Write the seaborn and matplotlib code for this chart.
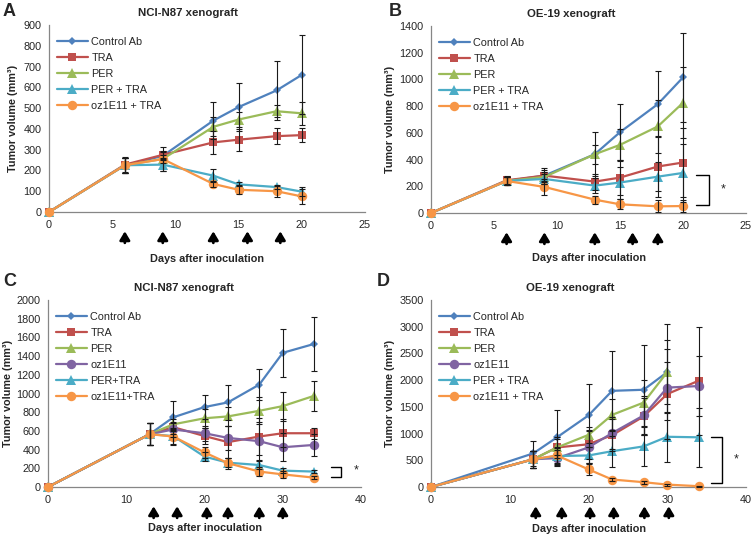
import numpy as np
import pandas as pd
import matplotlib
matplotlib.use("Agg")
import matplotlib.pyplot as plt
import seaborn as sns

# ---------------- data ----------------
# Panel A: NCI-N87 xenograft
a_days = [0, 6, 9, 13, 15, 18, 20]
a_control = [0, 225, 270, 440, 505, 585, 660]
a_control_err = [0, 35, 20, 90, 117, 140, 190]
a_tra = [0, 228, 275, 335, 348, 365, 370]
a_tra_err = [0, 35, 20, 57, 53, 37, 33]
a_per = [0, 225, 255, 410, 445, 485, 475]
a_per_err = [0, 35, 20, 45, 35, 28, 55]
a_pertra = [0, 225, 228, 175, 133, 120, 98]
a_pertra_err = [0, 35, 30, 33, 10, 10, 22]
a_oztra = [0, 225, 255, 135, 107, 100, 75]
a_oztra_err = [0, 35, 60, 15, 22, 27, 38]
a_dosing = [6, 9, 13, 15.7, 18.3]

# Panel B: OE-19 xenograft
b_days = [0, 6, 9, 13, 15, 18, 20]
b_control = [0, 240, 280, 440, 605, 815, 1015]
b_control_err = [0, 30, 40, 165, 210, 245, 335]
b_tra = [0, 245, 280, 235, 265, 348, 378]
b_tra_err = [0, 30, 60, 60, 130, 230, 260]
b_per = [0, 240, 270, 440, 510, 648, 825]
b_per_err = [0, 30, 40, 70, 117, 200, 265]
b_pertra = [0, 240, 255, 205, 228, 272, 300]
b_pertra_err = [0, 30, 40, 55, 120, 108, 214]
b_oztra = [0, 240, 195, 100, 65, 50, 52]
b_oztra_err = [0, 30, 57, 30, 37, 45, 45]
b_dosing = [6, 9, 13, 16, 18]

# Panel C: NCI-N87 xenograft (long)
c_days = [0, 13, 16, 20, 23, 27, 30, 34]
c_control = [0, 565, 745, 855, 905, 1095, 1435, 1530]
c_control_err = [0, 120, 175, 125, 190, 165, 255, 290]
c_tra = [0, 565, 640, 545, 480, 540, 575, 575]
c_tra_err = [0, 120, 40, 90, 170, 200, 150, 60]
c_per = [0, 565, 670, 735, 755, 815, 865, 975]
c_per_err = [0, 120, 60, 100, 100, 145, 155, 160]
c_oz = [0, 565, 615, 575, 525, 490, 425, 450]
c_oz_err = [0, 120, 80, 80, 130, 200, 150, 120]
c_pertra = [0, 565, 545, 325, 260, 235, 175, 165]
c_pertra_err = [0, 120, 80, 50, 50, 40, 30, 20]
c_oztra = [0, 565, 540, 370, 255, 165, 135, 100]
c_oztra_err = [0, 120, 90, 60, 60, 50, 40, 15]
c_dosing = [13.5, 16.5, 20.3, 23, 27, 30]

# Panel D: OE-19 xenograft (long)
d_days = [0, 13, 16, 20, 23, 27, 30, 34]
d_control = [0, 630, 930, 1340, 1800, 1820, 2150, np.nan]
d_control_err = [0, 240, 520, 590, 740, 830, 900, np.nan]
d_tra = [0, 520, 740, 800, 970, 1320, 1740, 1990]
d_tra_err = [0, 160, 150, 270, 300, 350, 850, 1010]
d_per = [0, 520, 740, 975, 1350, 1580, 2150, np.nan]
d_per_err = [0, 160, 200, 150, 300, 430, 600, np.nan]
d_oz = [0, 520, 540, 740, 1010, 1340, 1860, 1890]
d_oz_err = [0, 160, 150, 300, 300, 360, 480, 560]
d_pertra = [0, 520, 580, 590, 670, 760, 940, 930]
d_pertra_err = [0, 160, 150, 150, 290, 370, 470, 550]
d_oztra = [0, 520, 590, 330, 140, 90, 45, 15]
d_oztra_err = [0, 160, 150, 100, 30, 30, 20, 10]
d_dosing = [13.3, 16.6, 20.2, 23.2, 27.1, 30.2]

# ---------------- styles ----------------
COL = {"control": "#4F81BD", "tra": "#C0504D", "per": "#9BBB59",
       "oz": "#8064A2", "pertra": "#4BACC6", "oztra": "#F79646"}
MK = {"control": ("D", 4.2), "tra": ("s", 6.0), "per": ("^", 6.5),
      "oz": ("o", 6.8), "pertra": ("^", 6.5), "oztra": ("o", 6.8)}

sns.set_style("white")
plt.rcParams["font.family"] = ["Liberation Sans", "DejaVu Sans"]
FS = 7.8

fig = plt.figure(figsize=(7.56, 5.37), dpi=100)

W, H = 756.0, 537.0


def make_ax(l, r, t, b):
    return fig.add_axes([l / W, 1 - b / H, (r - l) / W, (b - t) / H])


def panel(ax, days, series, xmax, xstep, ymax, ystep, title, letter, dosing,
          title_x, xlabel_y, ylabel_x, letter_xy, bracket=None, star=None):
    for key, label, vals, errs in series:
        d = np.array(days, dtype=float)
        v = np.array(vals, dtype=float)
        ok = ~np.isnan(v)
        m, ms = MK[key]
        sns.lineplot(x=d[ok], y=v[ok], ax=ax, color=COL[key], marker=m,
                     markersize=ms, markeredgecolor=COL[key],
                     markeredgewidth=0, linewidth=1.6, label=label,
                     clip_on=False, zorder=3, sort=False)
    for key, label, vals, errs in series:
        d = np.array(days, dtype=float)
        v = np.array(vals, dtype=float)
        e = np.array(errs, dtype=float)
        ok = (~np.isnan(v)) & (np.nan_to_num(e) > 0)
        ax.errorbar(d[ok], v[ok], yerr=e[ok], fmt="none", ecolor="#1a1a1a",
                    elinewidth=0.8, capsize=2.2, capthick=0.8, zorder=4,
                    clip_on=False)
    ax.set_xlim(0, xmax)
    ax.set_ylim(0, ymax)
    ax.set_xticks(np.arange(0, xmax + 0.1, xstep))
    ax.set_yticks(np.arange(0, ymax + 0.1, ystep))
    for s in ["top", "right"]:
        ax.spines[s].set_visible(False)
    for s in ["left", "bottom"]:
        ax.spines[s].set_color("#868686")
        ax.spines[s].set_linewidth(0.9)
    ax.tick_params(axis="both", direction="out", length=3.5, width=0.8,
                   color="#868686", labelsize=FS, pad=2)
    ax.set_xlabel("Days after inoculation", fontweight="bold", fontsize=FS)
    ax.xaxis.set_label_coords(0.5, xlabel_y)
    ax.set_ylabel("Tumor volume (mm³)", fontweight="bold", fontsize=FS)
    ax.yaxis.set_label_coords(ylabel_x, 0.5)
    ax.text(title_x, 1.065, title, transform=ax.transAxes, ha="center",
            va="center", fontweight="bold", fontsize=8.2)
    fig.text(letter_xy[0] / W, 1 - letter_xy[1] / H, letter,
             fontweight="bold", fontsize=13, ha="left", va="center")
    ax.legend(loc="upper left", bbox_to_anchor=(0.0, 0.975),
              frameon=False, fontsize=FS, handlelength=2.9,
              handletextpad=0.3, labelspacing=0.55, borderaxespad=0.3)
    for x in dosing:
        ax.annotate("", xy=(x, -0.103), xytext=(x, -0.165),
                    xycoords=("data", "axes fraction"),
                    textcoords=("data", "axes fraction"),
                    arrowprops=dict(arrowstyle="-|>,head_width=0.3,head_length=0.5",
                                    color="black", lw=2.0, shrinkA=0, shrinkB=0))
    if bracket is not None:
        bx0, bx1, by0, by1 = bracket
        ax.plot([bx0, bx1, bx1, bx0], [by1, by1, by0, by0], color="black",
                lw=1.0, clip_on=False)
        ax.text(star[0], star[1], "*", ha="center", va="center", fontsize=9)


axA = make_ax(49, 365, 25, 212)
panel(axA, a_days,
      [("control", "Control Ab", a_control, a_control_err),
       ("tra", "TRA", a_tra, a_tra_err),
       ("per", "PER", a_per, a_per_err),
       ("pertra", "PER + TRA", a_pertra, a_pertra_err),
       ("oztra", "oz1E11 + TRA", a_oztra, a_oztra_err)],
      25, 5, 900, 100, "NCI-N87 xenograft", "A", a_dosing,
      0.44, -0.225, -0.098, (3, 12))

axB = make_ax(431, 746, 26, 213)
panel(axB, b_days,
      [("control", "Control Ab", b_control, b_control_err),
       ("tra", "TRA", b_tra, b_tra_err),
       ("per", "PER", b_per, b_per_err),
       ("pertra", "PER + TRA", b_pertra, b_pertra_err),
       ("oztra", "oz1E11 + TRA", b_oztra, b_oztra_err)],
      25, 5, 1400, 200, "OE-19 xenograft", "B", b_dosing,
      0.445, -0.214, -0.114, (389, 12), (21.05, 22.1, 62, 285), (23.2, 180))

axC = make_ax(48, 361, 300, 487)
panel(axC, c_days,
      [("control", "Control Ab", c_control, c_control_err),
       ("tra", "TRA", c_tra, c_tra_err),
       ("per", "PER", c_per, c_per_err),
       ("oz", "oz1E11", c_oz, c_oz_err),
       ("pertra", "PER+TRA", c_pertra, c_pertra_err),
       ("oztra", "oz1E11+TRA", c_oztra, c_oztra_err)],
      40, 10, 2000, 200, "NCI-N87 xenograft", "C", c_dosing,
      0.436, -0.195, -0.113, (3, 282), (36.2, 37.5, 110, 215), (39.4, 175))

axD = make_ax(431, 746, 300, 487)
panel(axD, d_days,
      [("control", "Control Ab", d_control, d_control_err),
       ("tra", "TRA", d_tra, d_tra_err),
       ("per", "PER", d_per, d_per_err),
       ("oz", "oz1E11", d_oz, d_oz_err),
       ("pertra", "PER + TRA", d_pertra, d_pertra_err),
       ("oztra", "oz1E11 + TRA", d_oztra, d_oztra_err)],
      40, 10, 3500, 500, "OE-19 xenograft", "D", d_dosing,
      0.443, -0.198, -0.114, (377, 282), (35.6, 36.9, 80, 942), (38.8, 520))

fig.savefig("out.png", dpi=100)
